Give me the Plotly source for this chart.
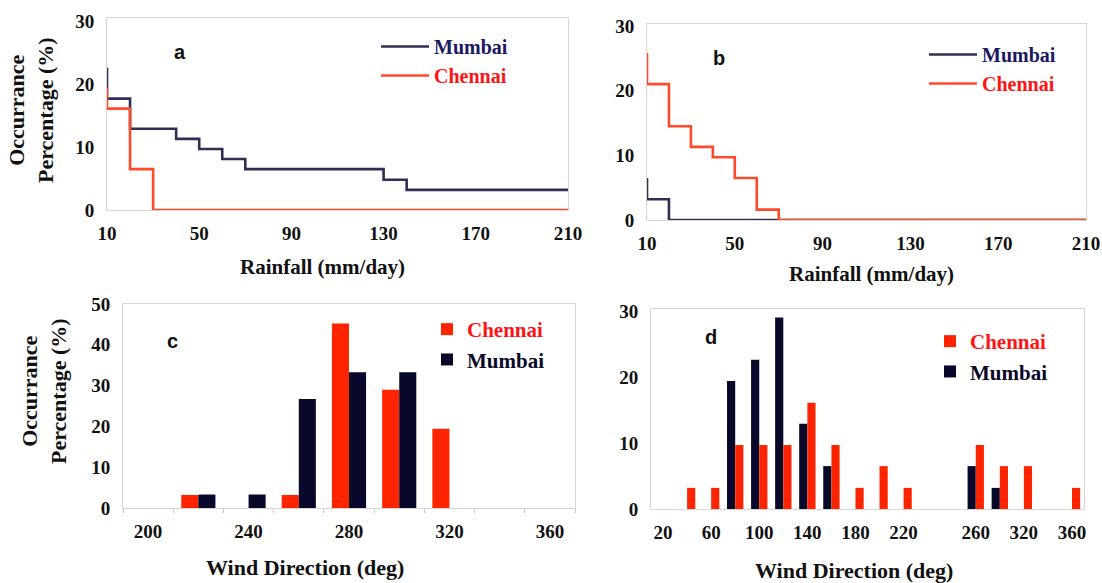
import plotly.graph_objects as go

# ---------------- data ----------------
# Panel a: rainfall occurrence (step curves)
a_mumbai_x = [10, 20, 40, 50, 60, 70, 130, 140, 210]
a_mumbai_y = [22.6, 17.7, 12.9, 11.3, 9.7, 8.1, 6.5, 4.8, 3.2]
a_chennai_x = [10, 20, 30, 210]
a_chennai_y = [19.4, 16.1, 6.5, 0]

# Panel b
b_mumbai_x = [10, 20, 210]
b_mumbai_y = [6.5, 3.2, 0]
b_chennai_x = [10, 20, 30, 40, 50, 60, 70, 210]
b_chennai_y = [25.8, 21.0, 14.5, 11.3, 9.7, 6.5, 1.6, 0]

rain_ticks = [10, 50, 90, 130, 170, 210]

# Panel c: wind direction histogram
c_dirs = [220, 240, 260, 280, 300, 320]
c_chennai = [3.2, 0, 3.2, 45.2, 29.0, 19.4]
c_mumbai = [3.3, 3.3, 26.7, 33.3, 33.3, 0]
c_ticks = [200, 240, 280, 320, 360]

# Panel d
d_chennai_dirs = [40, 60, 80, 100, 120, 140, 160, 180, 200, 220, 280, 300, 320, 360]
d_chennai = [3.2, 3.2, 9.7, 9.7, 9.7, 16.1, 9.7, 3.2, 6.5, 3.2, 9.7, 6.5, 6.5, 3.2]
d_mumbai_dirs = [80, 100, 120, 140, 160, 280, 300]
d_mumbai = [19.4, 22.6, 29.0, 12.9, 6.5, 6.5, 3.2]
d_tick_vals = [20, 60, 100, 140, 180, 220, 280, 320, 360]
d_tick_text = ["20", "60", "100", "140", "180", "220", "260", "320", "360"]

# ---------------- style ----------------
W, H = 1102, 583
SERIF = "Liberation Serif"
SANS = "Liberation Sans"
MUM_LINE = "#2d2f55"
CHE_LINE = "#ff4a2a"
MUM_BAR = "#08082a"
CHE_BAR = "#ff2400"
MUM_TXT = "#1a1a62"
CHE_TXT = "#ff1414"
FRAME = "#d6d6d6"


def px(x):
    return x / W


def py(y):
    return 1 - y / H


def name(txt, col):
    return f"<span style='color:{col}'>{txt}</span>"


fig = go.Figure()

# Panel a
fig.add_trace(go.Scatter(x=a_mumbai_x, y=a_mumbai_y, mode="lines", line=dict(shape="vh", color=MUM_LINE, width=2.6),
                         name=name("Mumbai", MUM_TXT), xaxis="x", yaxis="y", legend="legend"))
fig.add_trace(go.Scatter(x=a_chennai_x, y=a_chennai_y, mode="lines", line=dict(shape="vh", color=CHE_LINE, width=2.6),
                         name=name("Chennai", CHE_TXT), xaxis="x", yaxis="y", legend="legend"))
# Panel b
fig.add_trace(go.Scatter(x=b_mumbai_x, y=b_mumbai_y, mode="lines", line=dict(shape="vh", color=MUM_LINE, width=2.6),
                         name=name("Mumbai", MUM_TXT), xaxis="x2", yaxis="y2", legend="legend2"))
fig.add_trace(go.Scatter(x=b_chennai_x, y=b_chennai_y, mode="lines", line=dict(shape="vh", color=CHE_LINE, width=2.6),
                         name=name("Chennai", CHE_TXT), xaxis="x2", yaxis="y2", legend="legend2"))
# Panel c
fig.add_trace(go.Bar(x=c_dirs, y=c_chennai, marker=dict(color=CHE_BAR, line=dict(width=0)),
                     name=name("Chennai", CHE_TXT), xaxis="x3", yaxis="y3", legend="legend3", offsetgroup="c1"))
fig.add_trace(go.Bar(x=c_dirs, y=c_mumbai, marker=dict(color=MUM_BAR, line=dict(width=0)),
                     name=name("Mumbai", MUM_BAR), xaxis="x3", yaxis="y3", legend="legend3", offsetgroup="c2"))
# Panel d
fig.add_trace(go.Bar(x=d_mumbai_dirs, y=d_mumbai, marker=dict(color=MUM_BAR, line=dict(width=0)),
                     name=name("Mumbai", MUM_BAR), xaxis="x4", yaxis="y4", legend="legend4", legendrank=2,
                     offsetgroup="d1"))
fig.add_trace(go.Bar(x=d_chennai_dirs, y=d_chennai, marker=dict(color=CHE_BAR, line=dict(width=0)),
                     name=name("Chennai", CHE_TXT), xaxis="x4", yaxis="y4", legend="legend4", legendrank=1,
                     offsetgroup="d2"))

tickfont = dict(family=SERIF, size=19, color="#111111", weight="bold")


def xax(domain, rng, tickvals, anchor, ticktext=None, minor=None):
    d = dict(domain=domain, range=rng, anchor=anchor, tickvals=tickvals, showline=True, mirror=True,
             linecolor=FRAME, linewidth=1, showgrid=False, zeroline=False, ticks="", tickfont=tickfont,
             ticklabelstandoff=6, fixedrange=True, automargin=False)
    if ticktext is not None:
        d["ticktext"] = ticktext
    if minor is not None:
        d["minor"] = minor
    return d


def yax(domain, rng, tickvals, anchor):
    return dict(domain=domain, range=rng, anchor=anchor, tickvals=tickvals, showline=True, mirror=True,
                linecolor=FRAME, linewidth=1, showgrid=False, zeroline=False, ticks="", tickfont=tickfont,
                ticklabelstandoff=8, fixedrange=True, automargin=False)


legfont_ab = dict(family=SERIF, size=20, weight="bold")
legfont_cd = dict(family=SERIF, size=21, weight="bold")

fig.update_layout(
    width=W, height=H,
    margin=dict(l=0, r=0, t=0, b=0, autoexpand=False),
    paper_bgcolor="white", plot_bgcolor="white",
    barmode="group", bargap=0.32, bargroupgap=0,
    xaxis=xax([px(107), px(568)], [10, 210], rain_ticks, "y"),
    yaxis=yax([py(210), py(18)], [0, 30.5], [0, 10, 20, 30], "x"),
    xaxis2=xax([px(647), px(1086)], [10, 210], rain_ticks, "y2"),
    yaxis2=yax([py(220), py(24)], [0, 30.3], [0, 10, 20, 30], "x2"),
    xaxis3=xax([px(123), px(575)], [190, 370], c_ticks, "y3",
               minor=dict(tick0=210, dtick=20, ticks="outside", ticklen=4, tickcolor="#c8c8c8")),
    yaxis3=yax([py(508), py(304)], [0, 50], [0, 10, 20, 30, 40, 50], "x3"),
    xaxis4=xax([px(651), px(1084)], [10, 370], d_tick_vals, "y4", ticktext=d_tick_text),
    yaxis4=yax([py(509), py(309)], [0, 30.3], [0, 10, 20, 30], "x4"),
    legend=dict(x=px(376), y=py(27), xanchor="left", yanchor="top", font=legfont_ab, itemwidth=48,
                bgcolor="rgba(0,0,0,0)"),
    legend2=dict(x=px(924), y=py(35), xanchor="left", yanchor="top", font=legfont_ab, itemwidth=48,
                 bgcolor="rgba(0,0,0,0)"),
    legend3=dict(x=px(427), y=py(309), xanchor="left", yanchor="top", font=legfont_cd, bgcolor="rgba(0,0,0,0)"),
    legend4=dict(x=px(930), y=py(321), xanchor="left", yanchor="top", font=legfont_cd, bgcolor="rgba(0,0,0,0)"),
    showlegend=True,
)

letter_font = dict(family=SANS, size=20, color="#111111", weight="bold")
title_font = dict(family=SERIF, size=21, color="#111111", weight="bold")
ytitle_font = dict(family=SERIF, size=22, color="#111111", weight="bold")

annots = [
    dict(text="a", x=px(180), y=py(52), font=letter_font),
    dict(text="b", x=px(719), y=py(58), font=letter_font),
    dict(text="c", x=px(172), y=py(341), font=letter_font),
    dict(text="d", x=px(711), y=py(337), font=letter_font),
    dict(text="Rainfall (mm/day)", x=px(322), y=py(267), font=title_font),
    dict(text="Rainfall (mm/day)", x=px(871), y=py(274), font=title_font),
    dict(text="Wind Direction (deg)", x=px(305), y=py(567), font=dict(title_font, size=22)),
    dict(text="Wind Direction (deg)", x=px(854), y=py(570), font=dict(title_font, size=22)),
    dict(text="Occurrance<br>Percentage (%)", x=px(31), y=py(110), textangle=-90, font=ytitle_font),
    dict(text="Occurrance<br>Percentage (%)", x=px(44), y=py(391), textangle=-90, font=ytitle_font),
]
for a in annots:
    fig.add_annotation(xref="paper", yref="paper", xanchor="center", yanchor="middle", showarrow=False, **a)

fig.write_html("out.html", config={"displayModeBar": False},
               post_script="document.body.style.margin='0px';document.body.style.overflow='hidden';")
